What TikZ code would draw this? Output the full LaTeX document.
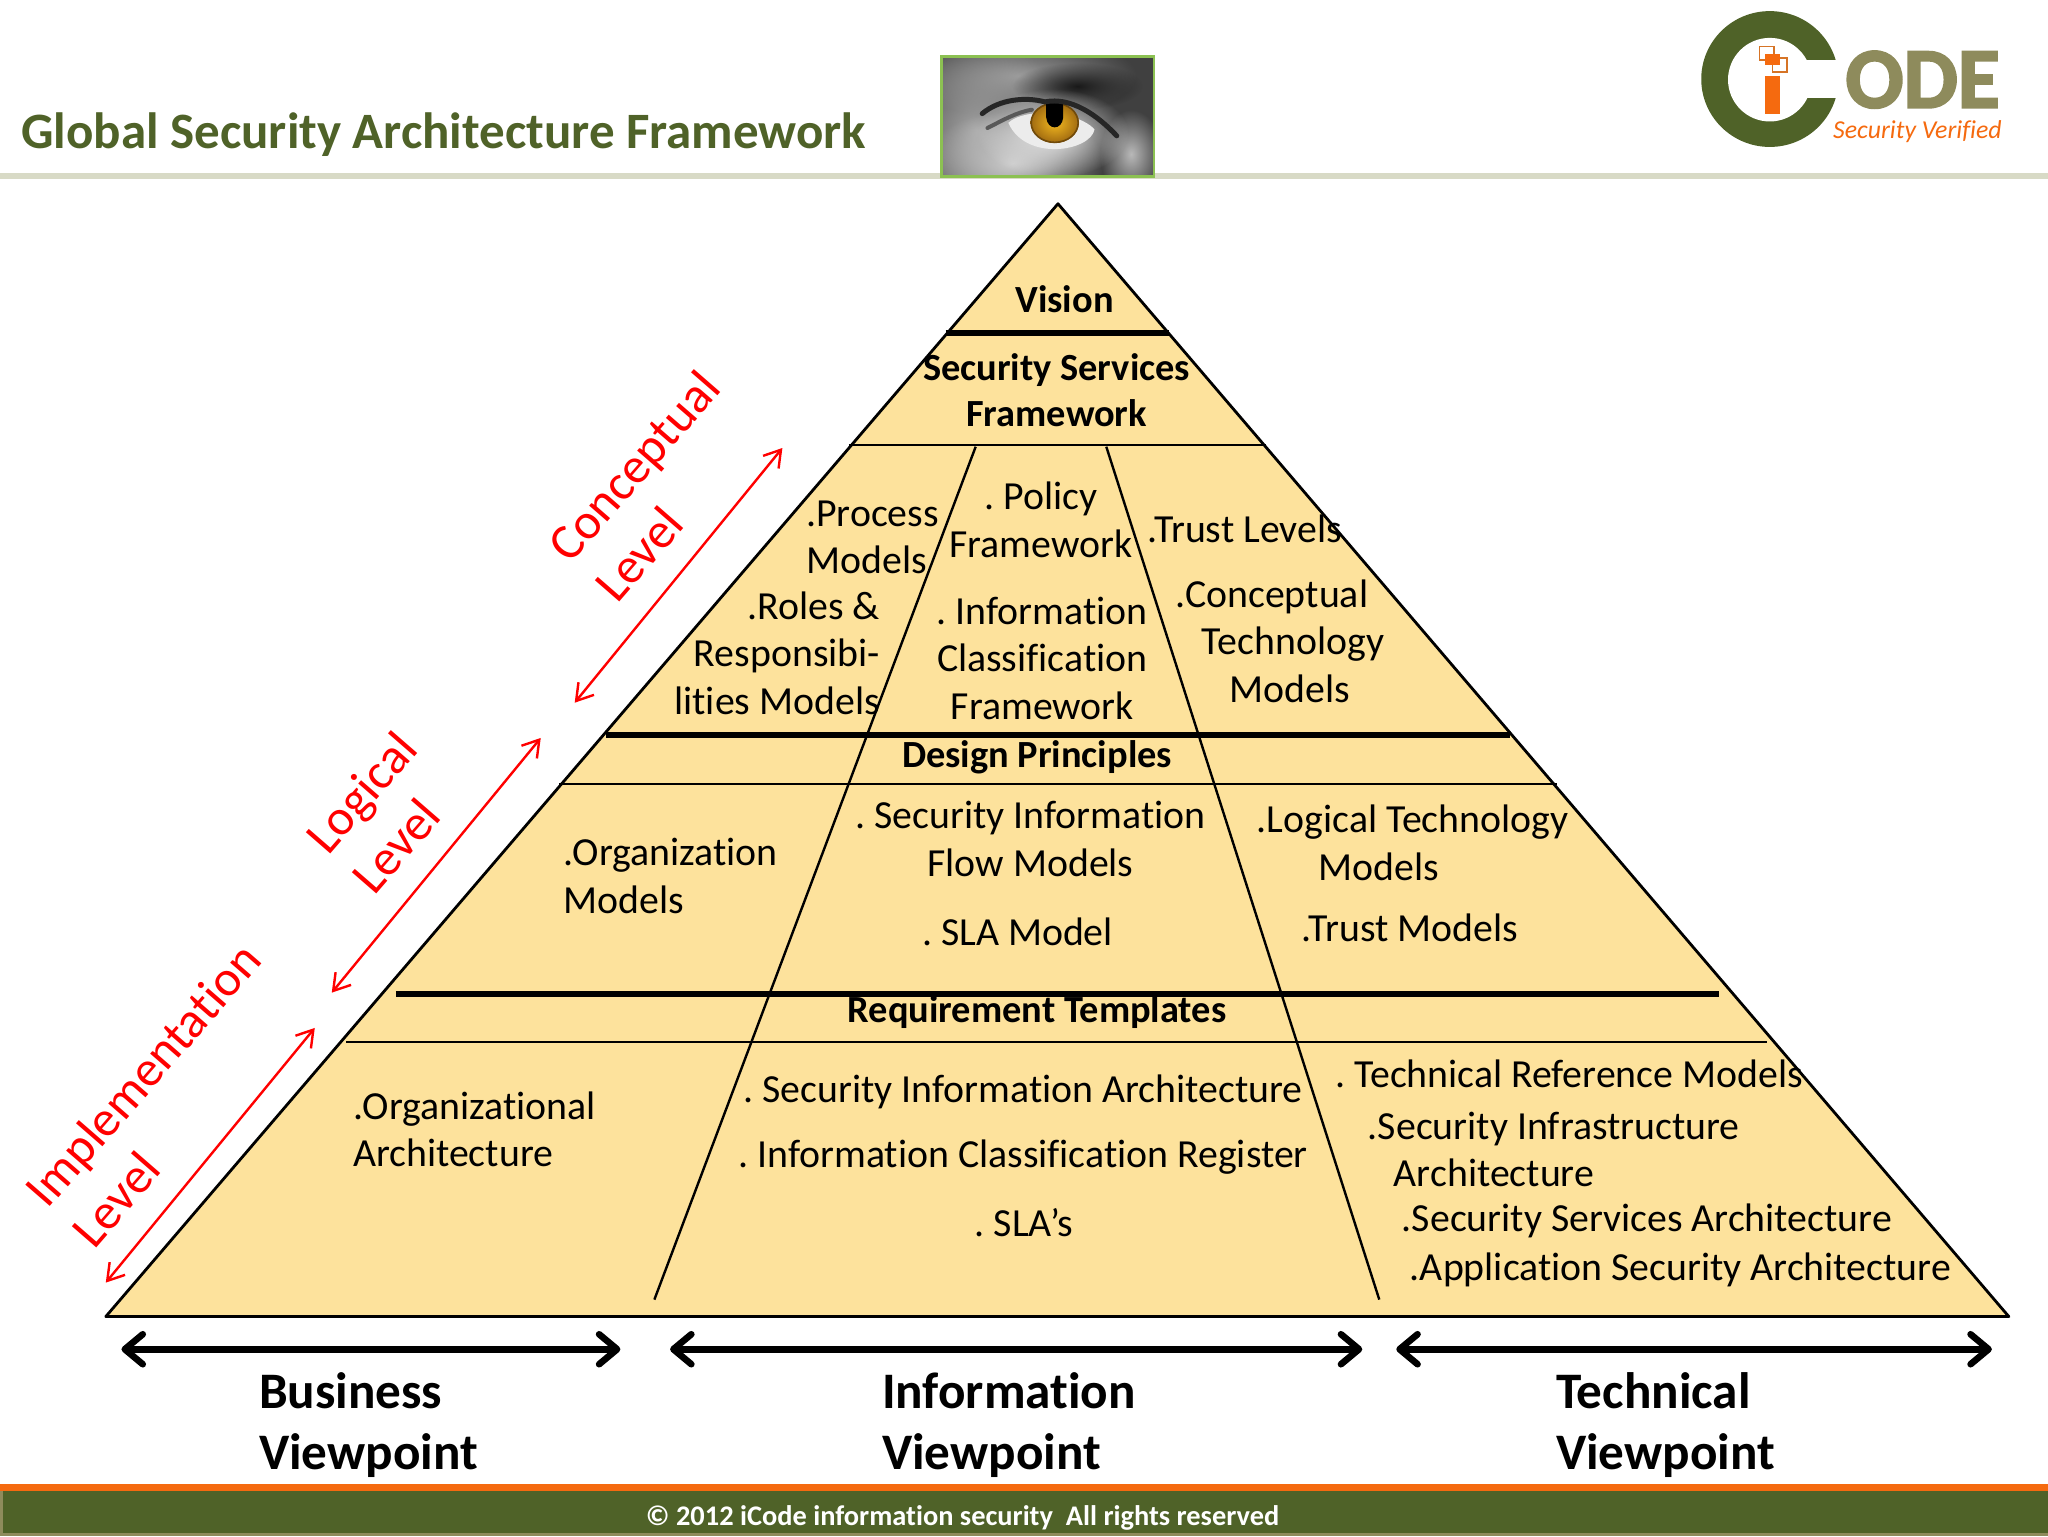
\documentclass[tikz,border=0pt]{standalone}
\usepackage{fontspec}
\setmainfont{Carlito}[Ligatures=NoCommon]
\newfontfamily\logofont{Carlito}[BoldFeatures={FakeBold=2.5}]
\usetikzlibrary{arrows.meta,fadings}

\definecolor{sand}{HTML}{FDE29C}
\definecolor{olive}{HTML}{4F6228}
\definecolor{khaki}{HTML}{8E8B5C}
\definecolor{rulegrey}{HTML}{D8DAC6}
\definecolor{flame}{HTML}{F56A0F}
\definecolor{framegreen}{HTML}{8CC152}
\definecolor{amber}{HTML}{F2B820}
\definecolor{amberrim}{HTML}{A06A10}

\tikzfading[name=softblob, inner color=transparent!0, outer color=transparent!100]

\tikzset{
  thinline/.style={line width=1pt},
  divline/.style={line width=1.2pt},
  heavyline/.style={line width=3pt},
  body/.style={inner sep=0pt, font=\fontsize{19.9}{23.8}\selectfont},
  bodybold/.style={inner sep=0pt, font=\fontsize{19.2}{23}\selectfont\bfseries},
  viewtext/.style={inner sep=0pt, anchor=west, align=left, font=\fontsize{25.6}{30.7}\selectfont\bfseries},
  leveltext/.style={inner sep=0pt, rotate=49, align=left, text=red, font=\fontsize{25.2}{30.7}\selectfont},
  levelarrow/.style={red, line width=1.2pt, {Straight Barb[length=8pt,width=10pt]}-{Straight Barb[length=8pt,width=10pt]}},
  viewarrow/.style={line width=3.3pt, {Straight Barb[round,length=9pt,width=15pt]}-{Straight Barb[round,length=9pt,width=15pt]}},
  blob/.style={path fading=softblob}
}

\begin{document}
\frenchspacing
\begin{tikzpicture}[x=0.65306pt,y=-0.65306pt]
  \useasboundingbox (0,0) rectangle (1568,1176);

  % header
  \node[inner sep=0pt, anchor=west, text=olive, font=\fontsize{25.5}{30}\selectfont\bfseries] (title) at (16,103) {Global Security Architecture Framework};
  \fill[rulegrey] (0,132.5) rectangle (1568,137);

  % eye
  \begin{scope}
    \clip (721,43) rectangle (884,135);
    \fill[black!75] (721,43) rectangle (884,135);
    \fill[gray!80, blob] (780,58) ellipse (90 and 32);
    \fill[gray!70, blob] (748,100) ellipse (70 and 70);
    \fill[gray!40, blob] (775,125) ellipse (70 and 40);
    \fill[gray!55, blob] (866,118) ellipse (24 and 34);
    \fill[black!90, blob] (825,66) ellipse (50 and 18);
    \fill[white!85!gray, blob] (806,102) ellipse (58 and 34);
    \fill[white!85!gray] (772,94) .. controls (785,82) and (825,85) .. (838,99) .. controls (835,116) and (785,124) .. (772,94) -- cycle;
    \shade[inner color=amber, outer color=amberrim] (807.5,94) ellipse (18.5 and 15.5);
    \draw[amberrim!70!black, line width=0.8pt] (807.5,94) ellipse (18 and 15);
    \fill[black] (801,76) -- (814,76) -- (814,90) .. controls (813,100) and (802,100) .. (801,90) -- cycle;
    \draw[black!85, line width=2.5pt, line cap=round] (752,87) .. controls (765,76) and (785,74) .. (800,78) .. controls (820,74) and (840,88) .. (855,104);
    \draw[black!65, line width=2pt, line cap=round] (756,98) .. controls (768,92) and (778,86) .. (790,84);
  \end{scope}
  \draw[framegreen, line width=1.4pt] (721,43.5) rectangle (883.5,135);

  % logo
  \fill[olive] (1355,60.5) ellipse (52.5 and 52);
  \fill[white] (1355,61) circle (32);
  \fill[white] (1380,46) rectangle (1412,75);
  \fill[flame] (1351.5,58) rectangle (1363,87);
  \draw[flame!70!khaki, line width=0.8pt] (1347,35.5) rectangle (1358,46) (1357,44.5) rectangle (1368,55);
  \fill[flame] (1351,41) rectangle (1363,50);
  \node[inner sep=0pt, text=khaki, font=\logofont\bfseries\fontsize{43}{44}\selectfont] (logotext) at (1472,61) {ODE};
  \node[inner sep=0pt, text=flame, font=\fontsize{12.9}{14}\selectfont\itshape] (logotag) at (1468,101) {Security Verified};

  % pyramid
  \coordinate (apex) at (810,156);
  \coordinate (baseL) at (81,1008);
  \coordinate (baseR) at (1538,1008);
  \draw[fill=sand, line width=1.4pt, line join=round] (apex) -- (baseR) -- (baseL) -- cycle;

  \coordinate (divLa) at (747,342);
  \coordinate (divLb) at (501,995);
  \coordinate (divRa) at (847,342);
  \coordinate (divRb) at (1056,995);
  \draw[divline] (divLa) -- (divLb);
  \draw[divline] (divRa) -- (divRb);

  \foreach \y/\xa/\xb/\kind in {255/724/895/heavyline,341/650/969/thinline,563/464/1156/heavyline,600/428/1192/thinline,761/303/1316/heavyline,798/265/1353/thinline}
    \draw[\kind] (\xa,\y) -- (\xb,\y);

  % pyramid text
  \node[bodybold] (vision) at (815,229) {Vision};
  \node[bodybold, align=center] (services) at (809,298.5) {Security Services\\Framework};
  \node[body, anchor=west, align=left] (process) at (617,411.5) {.Process\\Models};
  \node[body, anchor=east, align=right] (roles) at (674,500) {.Roles \&\\Responsibi-\\lities Models};
  \node[body, align=center] (policy) at (797,398) {. Policy\\Framework};
  \node[body, align=center] (classif) at (798,504) {. Information\\Classification\\Framework};
  \node[body, anchor=west] (trustlev) at (878,405) {.Trust Levels};
  \node[body, anchor=west, align=left] (concept) at (900,491) {.Conceptual\\\hspace*{13pt}Technology\\\hspace*{27pt}Models};
  \node[bodybold] (design) at (794,580) {Design Principles};
  \node[body, anchor=west, align=left] (orgmod) at (431,670.5) {.Organization\\Models};
  \node[body, align=center] (flow) at (789,642.5) {. Security Information\\Flow Models};
  \node[body] (slamod) at (779,713.5) {. SLA Model};
  \node[body, anchor=west, align=left] (logtech) at (962,645.5) {.Logical Technology\\\hspace*{31pt}Models};
  \node[body, anchor=west] (trustmod) at (996,710) {.Trust Models};
  \node[bodybold] (reqs) at (794,775) {Requirement Templates};
  \node[body, anchor=west, align=left] (orgarch) at (270,864.5) {.Organizational\\Architecture};
  \node[body, anchor=west] (secinfo) at (569,836) {. Security Information Architecture};
  \node[body, anchor=west] (register) at (565,886) {. Information Classification Register};
  \node[body, anchor=west] (slas) at (746,936) {. SLA’s};
  \node[body, anchor=west] (techref) at (1022,822) {. Technical Reference Models};
  \node[body, anchor=west, align=left] (infra) at (1047,880) {.Security Infrastructure\\\hspace*{13pt}Architecture};
  \node[body, anchor=west] (servarch) at (1073,935) {.Security Services Architecture};
  \node[body, anchor=west] (apparch) at (1079,972) {.Application Security Architecture};

  % levels
  \node[leveltext] (conceptual) at (503,372) {Conceptual\\Level};
  \node[leveltext] (logical) at (294,622) {Logical\\Level};
  \node[leveltext] (implement) at (127,838) {Implementation\\Level};
  \coordinate (capT) at (599,343);
  \coordinate (capB) at (440,538);
  \coordinate (logT) at (414,565);
  \coordinate (logB) at (254,760);
  \coordinate (impT) at (241,787);
  \coordinate (impB) at (81,982);
  \foreach \a/\b in {capB/capT,logB/logT,impB/impT}
    \draw[levelarrow] (\a) -- (\b);

  % viewpoints
  \coordinate (busL) at (93,1033);
  \coordinate (busR) at (475,1033);
  \coordinate (infL) at (513,1033);
  \coordinate (infR) at (1043,1033);
  \coordinate (tecL) at (1069,1033);
  \coordinate (tecR) at (1525,1033);
  \foreach \a/\b in {busL/busR,infL/infR,tecL/tecR}
    \draw[viewarrow] (\a) -- (\b);
  \node[viewtext] (business) at (198,1091) {Business\\Viewpoint};
  \node[viewtext] (information) at (675,1091) {Information\\Viewpoint};
  \node[viewtext] (technical) at (1191,1091) {Technical\\Viewpoint};

  % footer
  \fill[khaki] (0,1141) rectangle (1568,1176);
  \fill[olive] (2,1141) rectangle (1568,1174);
  \fill[flame] (0,1136.5) rectangle (1568,1141.5);
  \node[inner sep=0pt, text=white, font=\fontsize{14.2}{16}\selectfont\bfseries] (copyright) at (737,1162) {© 2012 iCode information security~~All rights reserved};
\end{tikzpicture}
\end{document}
